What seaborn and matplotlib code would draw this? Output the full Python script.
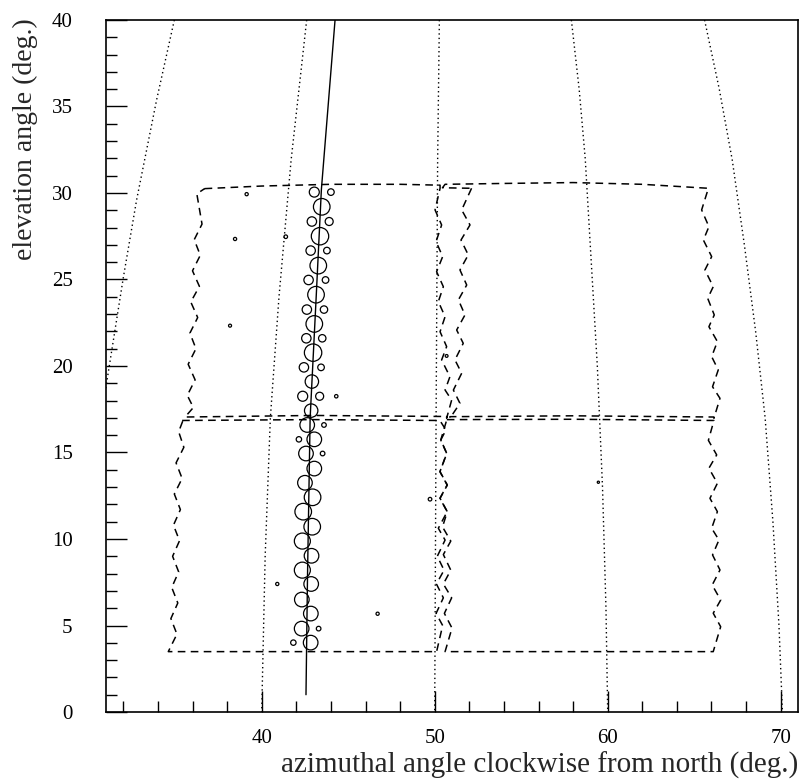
import matplotlib
matplotlib.use("Agg")
import matplotlib.pyplot as plt
from matplotlib.ticker import MultipleLocator, FixedLocator
import seaborn as sb
import numpy as np
import pandas as pd

# --- date (azimut, elevatie in grade) ---

# cercuri de-a lungul traseului + puncte izolate; raza ~ semnalul
cerc_az = [43.04, 44.00, 43.47, 42.90, 43.90, 43.37, 42.83, 43.77, 43.27, 42.71,
           43.69, 43.14, 42.61, 43.60, 43.04, 42.58, 43.50, 42.97, 42.44, 43.43,
           42.90, 42.37, 43.35, 44.31, 42.86, 42.63, 43.60, 42.15, 43.04, 42.56,
           43.52, 43.04, 42.50, 42.94, 42.40, 42.92, 42.35, 42.88, 42.35, 42.86,
           42.32, 42.84, 42.31, 43.29, 41.83, 42.83,
           39.13, 38.46, 41.39, 38.17, 40.90, 46.70, 49.73, 50.69, 59.46]
cerc_el = [30.05, 30.05, 29.20, 28.35, 28.35, 27.50, 26.67, 26.67, 25.80, 24.97,
           24.97, 24.12, 23.26, 23.26, 22.43, 21.60, 21.60, 20.77, 19.92, 19.92,
           19.10, 18.25, 18.25, 18.25, 17.42, 16.59, 16.59, 15.76, 15.76, 14.94,
           14.94, 14.07, 13.25, 12.41, 11.58, 10.71, 9.88, 9.03, 8.20, 7.40,
           6.50, 5.69, 4.82, 4.82, 4.01, 4.01,
           29.93, 27.34, 27.47, 22.33, 7.40, 5.68, 12.30, 20.58, 13.28]
cerc_raza = [5.0, 3.3, 8.3, 4.7, 4.0, 8.7, 4.7, 3.3, 8.3, 4.7,
             3.3, 8.3, 4.7, 3.7, 8.3, 4.7, 3.7, 8.7, 4.7, 3.3,
             6.7, 5.0, 4.0, 1.7, 6.7, 7.3, 2.3, 2.7, 7.3, 7.3,
             2.3, 7.3, 7.3, 8.3, 8.3, 8.3, 8.0, 7.3, 8.0, 7.3,
             7.3, 7.3, 7.3, 2.3, 2.7, 7.3,
             1.6, 1.6, 1.8, 1.5, 1.6, 1.6, 1.8, 1.4, 1.1]

# traseul reconstruit
traseu_az = [42.56, 42.65, 42.80, 43.15, 43.45, 44.24]
traseu_el = [1.0, 8.0, 17.0, 24.0, 30.2, 40.0]

# curbe punctate de azimut constant (alt sistem de coordonate)
curba_az = [
    [34.95, 33.93, 32.77, 32.00, 31.00, 30.50],
    [42.60, 41.70, 41.00, 40.50, 40.20, 40.00],
    [50.27, 50.17, 50.08, 50.00],
    [57.90, 58.35, 58.70, 59.05, 59.40, 59.70, 59.90, 60.00],
    [65.60, 66.45, 67.20, 67.90, 68.55, 69.10, 69.55, 69.90, 70.10],
]
curba_el = [
    [40.0, 35.4, 29.6, 25.1, 18.8, 15.7],
    [40.0, 31.9, 24.0, 17.0, 9.0, 0.0],
    [40.0, 31.9, 17.0, 0.0],
    [40.0, 36.0, 32.0, 26.0, 20.0, 13.0, 6.0, 0.0],
    [40.0, 36.0, 31.9, 27.0, 22.0, 17.0, 11.0, 5.0, 0.0],
]

# campurile de vedere (linie intrerupta) - fiecare latura separat
# sus-stanga
ss_sus_az = [36.70, 40.00, 44.00, 48.00, 50.31]
ss_sus_el = [30.25, 30.40, 30.50, 30.50, 30.45]
ss_dr_az = [50.31, 50.02, 50.40, 50.08, 50.46, 50.11, 50.50, 50.21, 50.60, 50.31,
            50.69, 50.40, 50.88, 50.60, 50.98, 50.69]
ss_dr_el = [30.27, 29.02, 28.15, 27.19, 26.32, 25.45, 24.58, 23.72, 22.85, 21.98,
            21.12, 20.35, 19.38, 18.61, 18.03, 16.98]
ss_jos_az = [50.69, 43.00, 35.57]
ss_jos_el = [17.08, 17.14, 17.05]
ss_st_az = [36.25, 36.55, 36.10, 36.45, 36.00, 36.40, 35.90, 36.30, 35.85, 36.20,
            35.75, 36.15, 35.70, 36.05, 35.57]
ss_st_el = [29.95, 28.20, 27.30, 26.40, 25.50, 24.60, 23.70, 22.80, 21.90, 21.00,
            20.10, 19.20, 18.30, 17.60, 17.05]

# sus-dreapta
sd_st_az = [52.13, 51.56, 52.04, 51.52, 51.94, 51.46, 51.85, 51.37, 51.75, 51.27,
            51.65, 51.17, 51.56, 51.08, 51.46, 50.88]
sd_st_el = [30.27, 29.02, 28.15, 27.28, 26.42, 25.55, 24.68, 23.82, 22.95, 22.08,
            21.31, 20.35, 19.58, 18.61, 17.84, 16.98]
sd_jos_az = [50.88, 58.00, 66.14]
sd_jos_el = [17.07, 17.12, 17.05]
sd_dr_az = [65.82, 65.43, 65.85, 65.53, 66.01, 65.62, 66.10, 65.78, 66.16, 65.85,
            66.34, 66.01, 66.39, 66.06, 66.49, 66.14]
sd_dr_el = [30.27, 29.02, 28.05, 27.28, 26.32, 25.55, 24.58, 23.91, 22.95, 22.27,
            21.41, 20.54, 19.77, 18.80, 18.13, 16.98]
sd_sus_az = [65.82, 62.00, 58.00, 54.00, 50.60, 50.45, 52.13]
sd_sus_el = [30.27, 30.50, 30.60, 30.55, 30.50, 30.30, 30.27]

# jos-stanga
js_sus_az = [35.40, 43.00, 50.30]
js_sus_el = [16.85, 16.90, 16.85]
js_dr_az = [50.30, 50.65, 50.35, 50.70, 50.30, 50.72, 50.30, 50.72, 50.21, 50.60,
            50.15, 50.54, 50.10, 50.50, 50.08, 50.46, 50.11]
js_dr_el = [16.85, 16.30, 15.72, 14.95, 13.89, 13.12, 12.35, 11.58, 10.62, 9.94,
            9.00, 8.20, 7.40, 6.60, 5.70, 5.00, 3.49]
js_jos_az = [50.11, 34.60]
js_jos_el = [3.49, 3.49]
js_st_az = [35.45, 35.20, 35.50, 35.05, 35.40, 34.95, 35.30, 34.90, 35.25, 34.85,
            35.20, 34.80, 35.15, 34.75, 35.10, 34.60]
js_st_el = [16.85, 16.20, 15.30, 14.40, 13.50, 12.60, 11.70, 10.80, 9.90, 9.00,
            8.10, 7.20, 6.30, 5.40, 4.50, 3.49]

# jos-dreapta
jd_sus_az = [50.70, 58.00, 66.14]
jd_sus_el = [16.90, 16.92, 16.85]
jd_dr_az = [66.14, 65.82, 66.30, 65.85, 66.34, 65.91, 66.34, 66.01, 66.43, 66.06,
            66.49, 66.04, 66.53, 66.10, 66.53, 66.10]
jd_dr_el = [16.85, 15.70, 14.86, 14.09, 13.22, 12.35, 11.58, 10.62, 9.94, 9.08,
            8.21, 7.34, 6.47, 5.71, 4.93, 3.49]
jd_jos_az = [66.10, 50.60]
jd_jos_el = [3.49, 3.49]
jd_st_az = [50.70, 50.35, 50.69, 50.31, 50.73, 50.31, 50.73, 50.45, 50.93, 50.50,
            50.93, 50.50, 50.98, 50.56, 51.00, 50.60]
jd_st_el = [16.90, 15.72, 14.95, 13.89, 13.12, 12.35, 11.58, 10.70, 9.88, 9.10,
            8.20, 7.40, 6.60, 5.70, 4.85, 3.49]

campuri = [
    (ss_sus_az + ss_dr_az + ss_jos_az + ss_st_az[::-1] + ss_sus_az[:1],
     ss_sus_el + ss_dr_el + ss_jos_el + ss_st_el[::-1] + ss_sus_el[:1]),
    (sd_st_az + sd_jos_az + sd_dr_az[::-1] + sd_sus_az,
     sd_st_el + sd_jos_el + sd_dr_el[::-1] + sd_sus_el),
    (js_sus_az + js_dr_az + js_jos_az + js_st_az[::-1],
     js_sus_el + js_dr_el + js_jos_el + js_st_el[::-1]),
    (jd_sus_az + jd_dr_az + jd_jos_az + jd_st_az[::-1],
     jd_sus_el + jd_dr_el + jd_jos_el + jd_st_el[::-1]),
]

sb.set_style('ticks')
plt.rcParams['font.family'] = ['Liberation Serif', 'DejaVu Serif']

fig = plt.figure(figsize=(8, 7.82), dpi=100)
ax = fig.add_axes([0.1325, 0.0895, 0.865, 0.885])

for az, el in zip(curba_az, curba_el):
    sb.lineplot(x=az, y=el, sort=False, estimator=None, color='k', linewidth=1.0,
                linestyle=(0, (1, 2.2)), ax=ax)

for az, el in campuri:
    sb.lineplot(x=az, y=el, sort=False, estimator=None, color='k', linewidth=1.1,
                linestyle=(0, (5, 3.5)), ax=ax)

sb.lineplot(x=traseu_az, y=traseu_el, sort=False, estimator=None, color='k',
            linewidth=1.0, ax=ax)

cercuri = pd.DataFrame({'az': cerc_az, 'el': cerc_el, 'raza': cerc_raza})
# aria markerului in pt^2 (1 px = 0.72 pt la 100 dpi)
marimi = (2 * cercuri['raza'] * 0.72) ** 2
sb.scatterplot(data=cercuri, x='az', y='el', s=marimi, marker='o', facecolor='none',
               edgecolor='k', linewidth=0.9, ax=ax, zorder=3)

ax.set_xlim(31, 71)
ax.set_ylim(0, 40)
ax.xaxis.set_major_locator(FixedLocator([40, 50, 60, 70]))
ax.xaxis.set_minor_locator(MultipleLocator(2))
ax.yaxis.set_major_locator(MultipleLocator(5))
ax.yaxis.set_minor_locator(MultipleLocator(1))
ax.tick_params(which='both', direction='in', top=False, right=False, width=1.0,
               colors='k', labelsize=15)
ax.tick_params(which='major', length=15)
ax.tick_params(which='minor', length=8)
ax.tick_params(axis='x', pad=12)
ax.tick_params(axis='y', pad=24)
for sp in ax.spines.values():
    sp.set_visible(True)
    sp.set_linewidth(1.2)
    sp.set_color('k')

ax.set_xlabel('azimuthal angle clockwise from north (deg.)', fontsize=21, loc='right')
ax.xaxis.set_label_coords(1.0, -0.057)
ax.xaxis.label.set_va('top')
ax.set_ylabel('elevation angle (deg.)', fontsize=20, loc='top', va='center')
ax.yaxis.set_label_coords(-0.117, 1.003)

fig.savefig('out.png', dpi=100)
